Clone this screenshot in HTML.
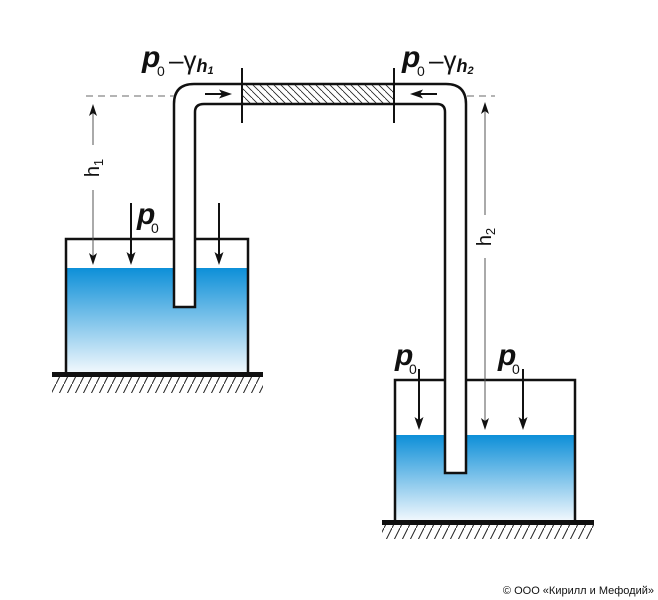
<!DOCTYPE html>
<html><head><meta charset="utf-8"><style>html,body{margin:0;padding:0;background:#fff}svg{display:block}</style></head>
<body>
<svg width="658" height="600" viewBox="0 0 658 600" xmlns="http://www.w3.org/2000/svg" font-family="Liberation Sans, sans-serif">
<defs>
<linearGradient id="w" x1="0" y1="0" x2="0" y2="1">
<stop offset="0" stop-color="#0d8fd8"/><stop offset="1" stop-color="#f2f8fd"/></linearGradient>
<pattern id="hp" width="7" height="7" patternUnits="userSpaceOnUse"><path d="M0 0L7 7M-7 0L7 14" stroke="#222" stroke-width="0.8"/></pattern>
<pattern id="gp" width="8" height="16" patternUnits="userSpaceOnUse"><path d="M8 0L0 16" stroke="#222" stroke-width="1"/></pattern>
</defs>
<!-- left tank -->
<rect x="66" y="268" width="182" height="105" fill="url(#w)"/>
<path d="M66 373V239H248V373" fill="none" stroke="#111" stroke-width="2.5"/>
<rect x="52" y="372" width="211" height="5" fill="#111"/>
<rect x="52" y="377" width="211" height="16" fill="url(#gp)"/>
<!-- right tank -->
<rect x="395" y="435" width="180" height="86" fill="url(#w)"/>
<path d="M395 521V380H575V521" fill="none" stroke="#111" stroke-width="2.5"/>
<rect x="382" y="520" width="212" height="5" fill="#111"/>
<rect x="382" y="525" width="212" height="14" fill="url(#gp)"/>
<!-- pipe -->
<path d="M174 307V104Q174 84 194 84H446Q466 84 466 104V473H445V112Q445 104 437 104H204Q195 104 195 112V307Z" fill="#fff" stroke="#111" stroke-width="2.5"/>
<rect x="242" y="85" width="152" height="18" fill="url(#hp)"/>
<path d="M242 68V123M394 68V123" stroke="#111" stroke-width="2"/>
<path d="M205 94H225M417 94H437" stroke="#111" stroke-width="2"/>
<polygon points="219,89.5 232,94 219,98.5 222,94" fill="#111"/>
<polygon points="423,89.5 410,94 423,98.5 420,94" fill="#111"/>
<!-- dashed -->
<path d="M86 96H174M467 96H495" stroke="#888" stroke-width="1.2" stroke-dasharray="7,5"/>
<!-- h1 -->
<path d="M93 145V110M93 190V258" stroke="#555" stroke-width="1"/>
<polygon points="89,116 93,104 97,116 93,113" fill="#111"/>
<polygon points="89,253 93,265 97,253 93,256" fill="#111"/>
<text transform="translate(99,168) rotate(-90)" text-anchor="middle" font-size="20" fill="#111">h<tspan font-size="13" dy="4">1</tspan></text>
<!-- h2 -->
<path d="M485 215V108M485 258V424" stroke="#555" stroke-width="1"/>
<polygon points="481,114 485,102 489,114 485,111" fill="#111"/>
<polygon points="481,418 485,430 489,418 485,421" fill="#111"/>
<text transform="translate(491,237) rotate(-90)" text-anchor="middle" font-size="20" fill="#111">h<tspan font-size="13" dy="4">2</tspan></text>
<!-- tank arrows -->
<path d="M131 203V258M219 203V258M419 369V423M523 369V423" stroke="#111" stroke-width="2"/>
<polygon points="126.5,252 131,265 135.5,252 131,255" fill="#111"/>
<polygon points="214.5,252 219,265 223.5,252 219,255" fill="#111"/>
<polygon points="414.5,417 419,430 423.5,417 419,420" fill="#111"/>
<polygon points="518.5,417 523,430 527.5,417 523,420" fill="#111"/>
<g font-weight="bold" font-style="italic" fill="#111">
<text x="137" y="224" font-size="30">p</text>
<text x="395" y="365" font-size="30">p</text>
<text x="498" y="365" font-size="30">p</text>
<text x="142" y="67" font-size="30">p</text>
<text x="402" y="67" font-size="30">p</text>
</g>
<g fill="#111" font-size="14">
<text x="151" y="233">0</text>
<text x="409" y="374">0</text>
<text x="512" y="374">0</text>
<text x="157" y="76">0</text>
<text x="417" y="76">0</text>
</g>
<g fill="#111">
<text x="169" y="69" font-size="26">–γ<tspan font-size="18" font-weight="bold" font-style="italic" dy="3">h</tspan><tspan font-size="11" font-weight="bold" font-style="italic" dy="2">1</tspan></text>
<text x="429" y="69" font-size="26">–γ<tspan font-size="18" font-weight="bold" font-style="italic" dy="3">h</tspan><tspan font-size="11" font-weight="bold" font-style="italic" dy="2">2</tspan></text>
</g>
<text x="654" y="594" text-anchor="end" font-size="11" fill="#111">© ООО «Кирилл и Мефодий»</text>
</svg>
</body></html>
